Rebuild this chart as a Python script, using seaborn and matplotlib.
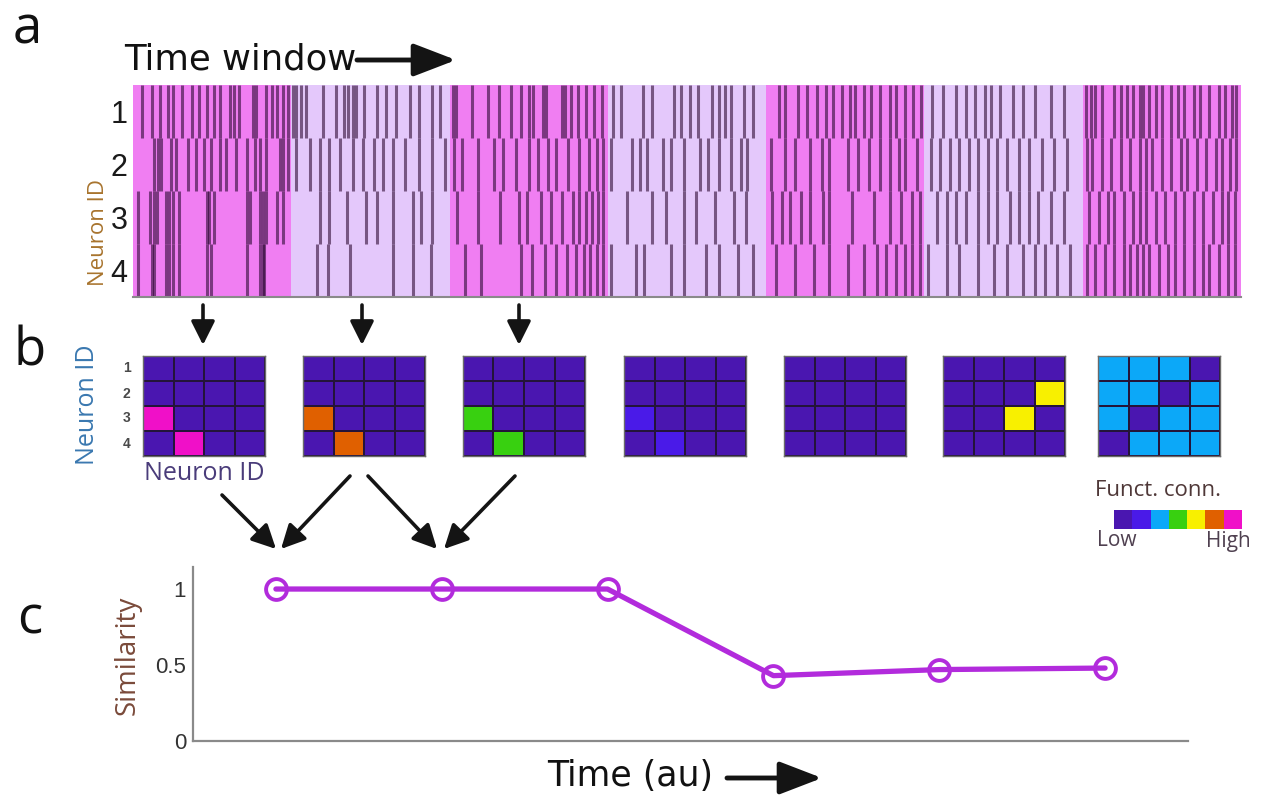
import numpy as np
import matplotlib
matplotlib.use("Agg")
import matplotlib.pyplot as plt
from matplotlib.colors import ListedColormap
from matplotlib.patches import FancyArrowPatch
import seaborn as sns

sns.set_style("white")

W, H = 1261, 798

# ---------------- data ----------------
neuron_ids = [1, 2, 3, 4]
window_colors = ["#F07EF2", "#E4C8FB", "#F07EF2", "#E4C8FB",
                 "#F07EF2", "#E4C8FB", "#F07EF2"]

# spike positions, in % of each time window, for each neuron (7 windows)
spikes_n1 = [
    [6, 12, 17, 22, 25, 31, 37, 42, 47, 51, 55, 61, 64, 67, 76, 78, 84, 88, 91, 95, 98],
    [1, 3, 6, 9, 20, 28, 33, 36, 39, 41, 46, 54, 60, 66, 75, 81, 89, 94],
    [2, 4, 14, 24, 31, 39, 45, 50, 53, 59, 61, 71, 73, 77, 81, 86, 91, 96],
    [3, 8, 22, 28, 42, 46, 52, 57, 66, 70, 74, 78, 86, 92],
    [8, 12, 20, 26, 32, 38, 42, 48, 53, 56, 62, 66, 72, 78, 82, 88, 93, 98],
    [5, 12, 20, 26, 32, 38, 42, 48, 56, 62, 70, 80, 88],
    [2, 5, 8, 12, 20, 24, 28, 32, 36, 38, 42, 46, 50, 56, 60, 64, 70, 74, 80, 86, 90, 94, 97],
]
spikes_n2 = [
    [13, 16, 18, 24, 27, 35, 40, 45, 49, 55, 59, 65, 72, 77, 80, 84, 93, 95, 98],
    [3, 12, 18, 24, 31, 39, 45, 52, 58, 64, 72, 81, 89, 97],
    [3, 8, 18, 28, 34, 42, 50, 56, 62, 67, 75, 82, 88, 93, 97],
    [2, 15, 20, 25, 35, 40, 48, 58, 63, 70, 78, 84, 88],
    [3, 12, 18, 28, 35, 40, 52, 58, 65, 72, 78, 84, 88, 95],
    [4, 10, 16, 22, 28, 34, 40, 46, 52, 60, 66, 74, 82, 90],
    [3, 6, 12, 18, 24, 30, 36, 40, 44, 50, 56, 62, 66, 72, 78, 84, 88, 93, 97],
]
spikes_n3 = [
    [3, 11, 13, 15, 21, 23, 25, 29, 47, 48, 51, 72, 74, 80, 82, 84, 91, 95],
    [18, 24, 35, 47, 54, 64, 77, 82, 89],
    [5, 18, 32, 44, 49, 58, 64, 71, 78, 82, 86, 90, 94, 97],
    [12, 28, 37, 48, 56, 68, 80, 87],
    [4, 10, 15, 22, 28, 36, 40, 54, 68, 78, 85, 92, 97],
    [8, 14, 20, 26, 34, 40, 46, 54, 60, 66, 72, 80, 88],
    [4, 10, 16, 20, 26, 32, 36, 40, 46, 52, 58, 64, 70, 76, 82, 88, 92, 96],
]
spikes_n4 = [
    [3, 12, 13, 21, 23, 25, 29, 47, 49, 72, 80, 82, 83],
    [16, 23, 37, 64, 77, 88],
    [10, 20, 45, 52, 60, 67, 74, 80, 85, 89, 93, 97],
    [2, 18, 23, 40, 48, 62, 70, 82, 92],
    [6, 18, 30, 40, 52, 62, 70, 76, 82, 88, 92, 97],
    [2, 14, 22, 34, 44, 52, 62, 70, 76, 84, 92],
    [3, 8, 14, 20, 26, 30, 34, 38, 42, 48, 54, 58, 64, 70, 76, 80, 86, 92, 96],
]
spikes = [spikes_n1, spikes_n2, spikes_n3, spikes_n4]

# functional connectivity level colours (Low -> High)
fc_colors = ["#4A16B0", "#4A1AE8", "#0CA8F8", "#38D010",
             "#F8F000", "#E06000", "#F010C8"]
fc_levels = [0, 1, 2, 3, 4, 5, 6]

# functional connectivity matrices (level index) for the 7 windows
mat_1 = [[0, 0, 0, 0], [0, 0, 0, 0], [6, 0, 0, 0], [0, 6, 0, 0]]
mat_2 = [[0, 0, 0, 0], [0, 0, 0, 0], [5, 0, 0, 0], [0, 5, 0, 0]]
mat_3 = [[0, 0, 0, 0], [0, 0, 0, 0], [3, 0, 0, 0], [0, 3, 0, 0]]
mat_4 = [[0, 0, 0, 0], [0, 0, 0, 0], [1, 0, 0, 0], [0, 1, 0, 0]]
mat_5 = [[0, 0, 0, 0], [0, 0, 0, 0], [0, 0, 0, 0], [0, 0, 0, 0]]
mat_6 = [[0, 0, 0, 0], [0, 0, 0, 4], [0, 0, 4, 0], [0, 0, 0, 0]]
mat_7 = [[2, 2, 2, 0], [2, 2, 0, 2], [2, 0, 2, 2], [0, 2, 2, 2]]
matrices = [mat_1, mat_2, mat_3, mat_4, mat_5, mat_6, mat_7]

time_points = [1, 2, 3, 4, 5, 6]
similarity = [1.0, 1.0, 1.0, 0.43, 0.47, 0.48]
sim_ticks = [0, 0.5, 1]
sim_ticklabels = ["0", "0.5", "1"]


# ---------------- helpers ----------------
def rect(x0, y0, x1, y1):
    return [x0 / W, 1 - y1 / H, (x1 - x0) / W, (y1 - y0) / H]


def fp(x, y):
    return (x / W, 1 - y / H)


fig = plt.figure(figsize=(W / 100, H / 100), dpi=100)
fig.patch.set_facecolor("white")

SANS = ["Open Sans", "DejaVu Sans"]
ARIAL = ["Liberation Sans", "DejaVu Sans"]


def arrow(p0, p1, lw=2.6, ms=20, hl=0.6, hw=0.35):
    a = FancyArrowPatch(fp(*p0), fp(*p1), transform=fig.transFigure,
                        arrowstyle=f"-|>,head_length={hl},head_width={hw}",
                        mutation_scale=ms, lw=lw, color="#141414",
                        shrinkA=0, shrinkB=0)
    fig.add_artist(a)


# ---------------- panel a: raster ----------------
axa = fig.add_axes(rect(133, 85, 1241, 297))
for w, c in enumerate(window_colors):
    axa.axvspan(w, w + 1, color=c, lw=0, zorder=0)
for r, row in enumerate(spikes):
    xs = [w + o / 100 for w, offs in enumerate(row) for o in offs]
    axa.vlines(xs, r, r + 1, color="#2E0A34", alpha=0.6, lw=2.2, zorder=2)
axa.set_xlim(0, 7)
axa.set_ylim(4, 0)
axa.set_xticks([])
axa.set_yticks([0.5, 1.5, 2.5, 3.5])
axa.set_yticklabels(neuron_ids, fontsize=22, family=ARIAL, color="#1a1a1a")
axa.tick_params(axis="y", length=0, pad=4)
for s in ["top", "right", "left"]:
    axa.spines[s].set_visible(False)
axa.spines["bottom"].set_color("#8a8a8a")
axa.spines["bottom"].set_linewidth(1.5)

fig.text(*fp(98, 232), "Neuron ID", rotation=90, ha="center", va="center",
         fontsize=16, family=SANS, color="#A8742E")
fig.text(*fp(124, 60), "Time window", ha="left", va="center",
         fontsize=25.5, family=["DejaVu Sans"], color="#111111")
arrow((357, 60), (456, 60), lw=3.5, ms=20, hl=1.3, hw=0.5)

# ---------------- panel b: connectivity matrices ----------------
fc_cmap = ListedColormap(fc_colors)
mat_x = [143, 303, 463, 624, 784, 943, 1098]
for i, (m, x0) in enumerate(zip(matrices, mat_x)):
    ax = fig.add_axes(rect(x0, 356, x0 + 122, 456))
    sns.heatmap(np.array(m), ax=ax, cmap=fc_cmap, vmin=-0.5, vmax=6.5,
                cbar=False, linewidths=1.4, linecolor="#24143A",
                xticklabels=False,
                yticklabels=neuron_ids if i == 0 else False)
    for s in ax.spines.values():
        s.set_visible(True)
        s.set_color("#6a6a6a")
        s.set_linewidth(1.0)
    if i == 0:
        ax.tick_params(axis="y", length=0, pad=9)
        for t in ax.get_yticklabels():
            t.set_rotation(0)
            t.set_fontsize(10)
            t.set_fontweight("bold")
            t.set_color("#4a4a4a")
            t.set_family(ARIAL)
    else:
        ax.tick_params(length=0)

fig.text(*fp(88, 405), "Neuron ID", rotation=90, ha="center", va="center",
         fontsize=18, family=SANS, color="#3A78B0")
fig.text(*fp(204, 474), "Neuron ID", ha="center", va="center",
         fontsize=18, family=SANS, color="#4A3C7A")

# colour legend
axl = fig.add_axes(rect(1114, 510, 1242, 529))
sns.heatmap(np.array([fc_levels]), ax=axl, cmap=fc_cmap, vmin=-0.5, vmax=6.5,
            cbar=False, linewidths=0, xticklabels=False, yticklabels=False)
fig.text(*fp(1158, 490), "Funct. conn.", ha="center", va="center",
         fontsize=16, family=SANS, color="#4F3838")
fig.text(*fp(1117, 541), "Low", ha="center", va="center",
         fontsize=15, family=SANS, color="#4F4050")
fig.text(*fp(1228, 541), "High", ha="center", va="center",
         fontsize=15, family=SANS, color="#4F4050")

# arrows a -> b
for x in [203, 362, 519]:
    arrow((x, 305), (x, 345), lw=2.6, ms=18, hl=0.8, hw=0.4)
# arrows b -> c
arrow((222, 495), (276, 549), lw=2.6, ms=18, hl=0.8, hw=0.4)
arrow((350, 476), (281, 549), lw=2.6, ms=18, hl=0.8, hw=0.4)
arrow((368, 476), (437, 549), lw=2.6, ms=18, hl=0.8, hw=0.4)
arrow((515, 476), (444, 549), lw=2.6, ms=18, hl=0.8, hw=0.4)

# ---------------- panel c: similarity ----------------
axc = fig.add_axes(rect(193, 567, 1188, 741))
line_col = "#B22BDC"
sns.lineplot(x=time_points, y=similarity, ax=axc, color=line_col, lw=3.8,
             marker="o", markersize=15, markerfacecolor="none",
             markeredgecolor=line_col, markeredgewidth=2.8)
axc.set_xlim(0.5, 6.5)
axc.set_ylim(0, 1.145)
axc.set_xticks(time_points)
axc.set_xticklabels([])
axc.set_yticks(sim_ticks)
axc.set_yticklabels(sim_ticklabels, fontsize=16, family=ARIAL, color="#333333")
axc.tick_params(axis="x", direction="in", length=10, width=1.3, color="#777777")
axc.tick_params(axis="y", direction="out", length=4, width=1.2, color="#777777", pad=1)
for s in ["top", "right"]:
    axc.spines[s].set_visible(False)
for s in ["left", "bottom"]:
    axc.spines[s].set_color("#8a8a8a")
    axc.spines[s].set_linewidth(1.6)
axc.set_xlabel("")
axc.set_ylabel("")
fig.text(*fp(128, 655), "Similarity", rotation=90, ha="center", va="center",
         fontsize=20, family=SANS, color="#7A4A3A")
fig.text(*fp(630, 776), "Time (au)", ha="center", va="center",
         fontsize=25, family=["DejaVu Sans"], color="#111111")
arrow((727, 778), (822, 778), lw=3.5, ms=20, hl=1.3, hw=0.5)

# ---------------- panel letters ----------------
fig.text(*fp(27, 30), "a", ha="center", va="center", fontsize=38, family=SANS, color="#111111")
fig.text(*fp(30, 352), "b", ha="center", va="center", fontsize=38, family=SANS, color="#111111")
fig.text(*fp(30, 620), "c", ha="center", va="center", fontsize=38, family=SANS, color="#111111")

fig.savefig("out.png", dpi=100, facecolor="white")
